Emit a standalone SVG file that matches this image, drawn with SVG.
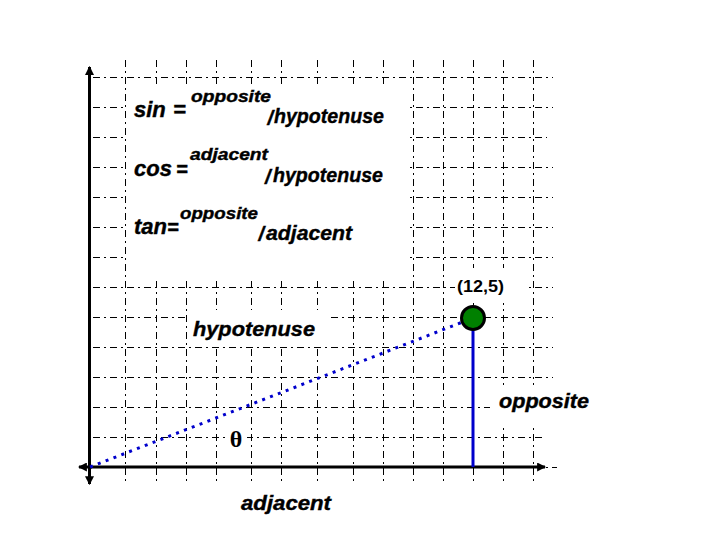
<svg xmlns="http://www.w3.org/2000/svg" width="720" height="540" viewBox="0 0 720 540">
<defs>
<style>
.grid line{stroke:#000;stroke-width:1;stroke-dasharray:7 4 2 4;fill:none;shape-rendering:crispEdges}
.box{fill:#fff;stroke:none}
.axis{stroke:#000;stroke-width:3;fill:none}
.bi{font-family:"Liberation Sans",Arial,sans-serif;font-weight:bold;font-style:italic;fill:#000;stroke:#000;stroke-width:0.4}
.b{font-family:"Liberation Sans",Arial,sans-serif;font-weight:bold;fill:#000}
.main{font-size:22px}
.eq{font-size:20px}
.sup{font-size:17px}
.sl{font-size:20px}
.sub{font-size:21px}
.lbl{font-size:21px}
</style>
<marker id="ah" viewBox="0 0 8 8" refX="7" refY="4" markerWidth="9" markerHeight="9" markerUnits="userSpaceOnUse" orient="auto">
<path d="M0,0 L8,4 L0,8 Z" fill="#000"/>
</marker>
</defs>
<rect width="720" height="540" fill="#fff"/>
<g id="grid" class="grid">
<line x1="93" y1="77.5" x2="553" y2="77.5"/>
<line x1="93" y1="107.5" x2="553" y2="107.5"/>
<line x1="93" y1="137.5" x2="547" y2="137.5"/>
<line x1="93" y1="167.5" x2="553" y2="167.5"/>
<line x1="93" y1="197.5" x2="553" y2="197.5"/>
<line x1="93" y1="227.5" x2="553" y2="227.5"/>
<line x1="93" y1="257.5" x2="553" y2="257.5"/>
<line x1="93" y1="287.5" x2="553" y2="287.5"/>
<line x1="93" y1="317.5" x2="553" y2="317.5"/>
<line x1="93" y1="347.5" x2="553" y2="347.5"/>
<line x1="93" y1="377.5" x2="553" y2="377.5"/>
<line x1="93" y1="407.5" x2="553" y2="407.5"/>
<line x1="93" y1="437.5" x2="545" y2="437.5"/>
<line x1="93" y1="467.5" x2="557" y2="467.5"/>
<line x1="125.5" y1="60" x2="125.5" y2="482"/>
<line x1="156.5" y1="60" x2="156.5" y2="482"/>
<line x1="186.5" y1="60" x2="186.5" y2="482"/>
<line x1="216.5" y1="60" x2="216.5" y2="482"/>
<line x1="251.5" y1="60" x2="251.5" y2="482"/>
<line x1="281.5" y1="60" x2="281.5" y2="482"/>
<line x1="317.5" y1="60" x2="317.5" y2="482"/>
<line x1="353.5" y1="60" x2="353.5" y2="482"/>
<line x1="383.5" y1="60" x2="383.5" y2="482"/>
<line x1="413.5" y1="60" x2="413.5" y2="482"/>
<line x1="443.5" y1="60" x2="443.5" y2="482"/>
<line x1="473.5" y1="60" x2="473.5" y2="482"/>
<line x1="503.5" y1="60" x2="503.5" y2="482"/>
<line x1="533.5" y1="60" x2="533.5" y2="482"/>
</g>
<g id="label-backgrounds">
<rect class="box" x="127" y="84" width="283" height="197"/>
<rect class="box" x="455" y="268" width="70" height="35"/>
<rect class="box" x="188" y="310" width="139" height="37"/>
<rect class="box" x="227" y="428" width="20" height="22"/>
<rect class="box" x="490" y="385" width="105" height="43"/>
</g>
<g id="axes">
<line class="axis" x1="89.5" y1="476" x2="89.5" y2="67" marker-end="url(#ah)"/>
<line class="axis" x1="89.5" y1="470" x2="89.5" y2="484" marker-end="url(#ah)"/>
<line class="axis" x1="89.5" y1="467" x2="545" y2="467" marker-end="url(#ah)"/>
<line class="axis" x1="92" y1="467" x2="79" y2="467" marker-end="url(#ah)"/>
</g>
<g id="connectors">
<line id="hypotenuse-line" x1="90" y1="467" x2="473" y2="318" stroke="#0000CC" stroke-width="3" stroke-dasharray="3 5.4"/>
<line id="opposite-line" x1="473" y1="318" x2="473" y2="467" stroke="#0000CC" stroke-width="3"/>
</g>
<g id="point">
<circle cx="473" cy="318" r="11.5" fill="#008000" stroke="#000" stroke-width="3"/>
<text class="b" x="480.5" y="291.5" font-size="16" text-anchor="middle" textLength="47" lengthAdjust="spacingAndGlyphs">(12,5)</text>
</g>
<g id="formulas">
<text class="bi main" x="134" y="117">sin</text>
<text class="bi main" x="173" y="117">=</text>
<text class="bi sup" x="191" y="102" textLength="80" lengthAdjust="spacingAndGlyphs">opposite</text>
<text class="bi sl" x="267.5" y="125">/</text>
<text class="bi sub" x="274" y="123" textLength="110" lengthAdjust="spacingAndGlyphs">hypotenuse</text>

<text class="bi main" x="134" y="176">cos</text>
<text class="bi eq" x="176" y="176">=</text>
<text class="bi sup" x="190" y="160" textLength="78" lengthAdjust="spacingAndGlyphs">adjacent</text>
<text class="bi sl" x="265" y="184">/</text>
<text class="bi sub" x="273" y="182" textLength="110" lengthAdjust="spacingAndGlyphs">hypotenuse</text>

<text class="bi main" x="134" y="234">tan</text>
<text class="bi eq" x="167" y="234">=</text>
<text class="bi sup" x="180" y="219" textLength="78" lengthAdjust="spacingAndGlyphs">opposite</text>
<text class="bi sl" x="258.5" y="241">/</text>
<text class="bi sub" x="266" y="240" textLength="86" lengthAdjust="spacingAndGlyphs">adjacent</text>
</g>
<g id="labels">
<text class="bi lbl" x="193" y="336" textLength="122" lengthAdjust="spacingAndGlyphs">hypotenuse</text>
<text class="bi" x="499" y="408" font-size="20" textLength="90" lengthAdjust="spacingAndGlyphs">opposite</text>
<text class="bi lbl" x="241" y="510" textLength="90" lengthAdjust="spacingAndGlyphs">adjacent</text>
<text x="236" y="447" font-family="'Liberation Serif','Times New Roman',serif" font-weight="bold" font-size="24" text-anchor="middle">θ</text>
</g>
</svg>
